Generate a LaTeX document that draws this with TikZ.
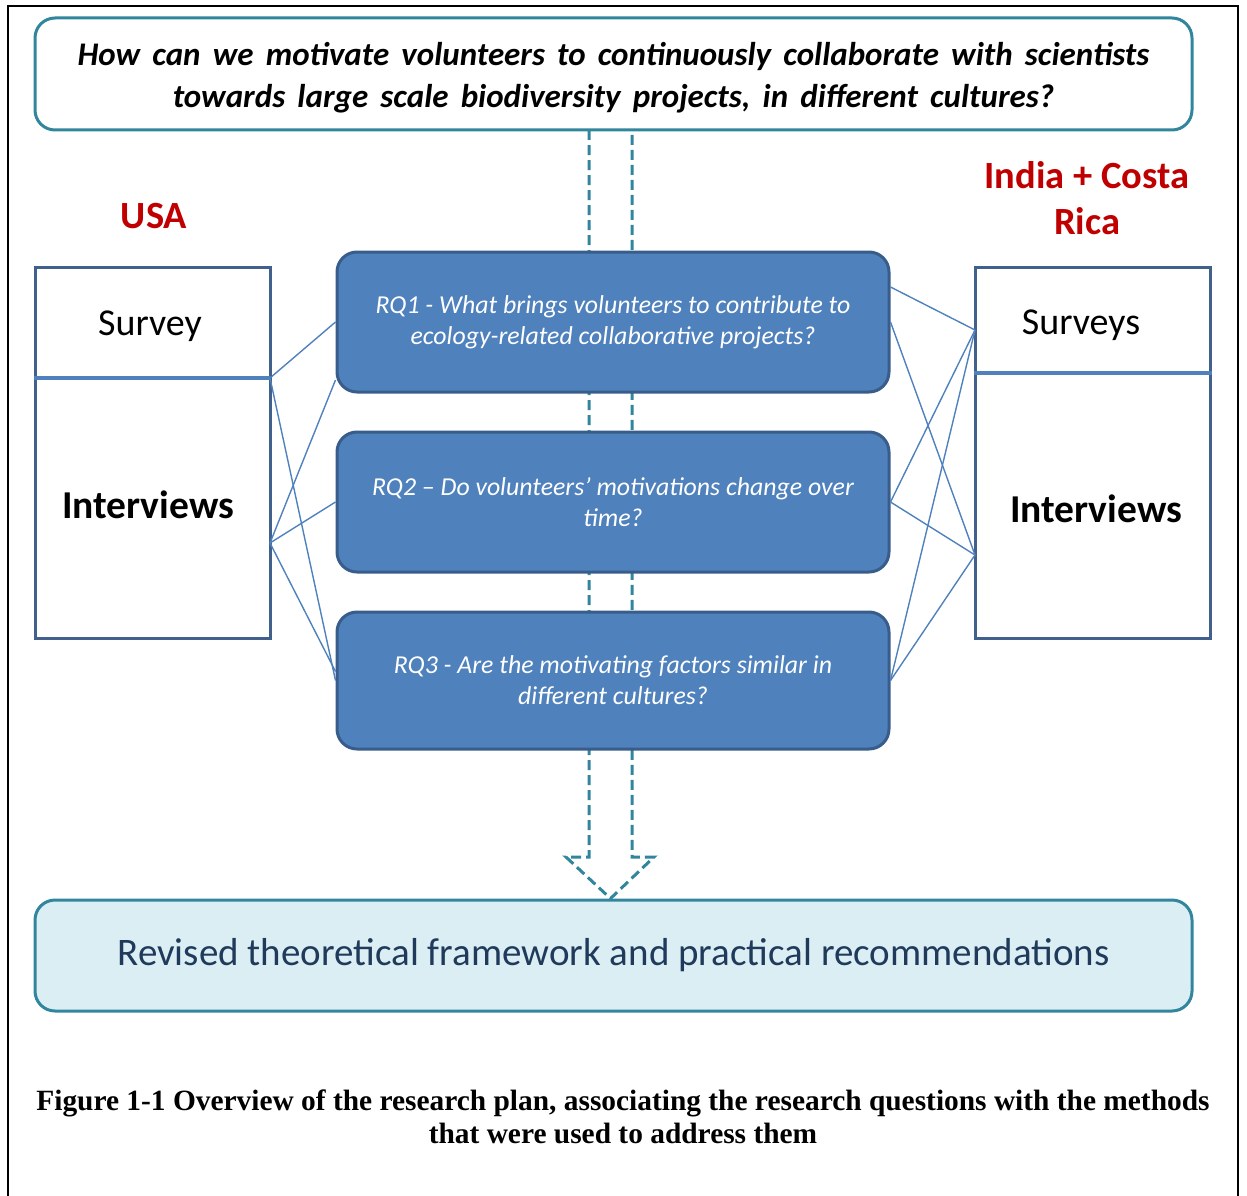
\documentclass[tikz,border=0pt]{standalone}
\usepackage{fontspec}
\setmainfont{Carlito}
\newfontfamily\capfont{Liberation Serif}
\usetikzlibrary{positioning,calc,backgrounds}
\definecolor{qteal}{HTML}{31859C}
\definecolor{rqblue}{HTML}{4F81BD}
\definecolor{rqedge}{HTML}{385D8A}
\definecolor{boxedge}{HTML}{41618C}
\definecolor{pale}{HTML}{DBEEF4}
\definecolor{navytext}{HTML}{1F3A5A}
\definecolor{cred}{HTML}{C00000}
\newcommand{\widespaces}{\spaceskip=0.37em\relax}

\begin{document}
\begin{tikzpicture}[x=1pt, y=-1pt,
    every node/.style={align=center, inner sep=0pt},
    qbox/.style={draw=qteal, line width=3pt, rounded corners=20pt, minimum width=1157pt},
    rqbox/.style={draw=rqedge, line width=3pt, fill=rqblue, rounded corners=20pt,
                  minimum width=552pt, minimum height=140pt, text=white,
                  font=\fontsize{25.8}{31}\selectfont\itshape},
    mbox/.style={draw=boxedge, line width=3pt, minimum width=235pt, minimum height=371pt},
    divider/.style={draw=rqblue, line width=3.5pt},
    link/.style={draw=rqblue, line width=1.4pt},
    country/.style={text=cred, font=\fontsize{38.5}{46}\selectfont\bfseries},
    mlab/.style={font=\fontsize{38}{44}\selectfont},
    mlabb/.style={font=\fontsize{39.5}{46}\selectfont\bfseries},
    hollow/.style={draw=qteal, line width=3pt, dash pattern=on 10pt off 5pt}]
  \useasboundingbox (0,0) rectangle (1247,1196);
  \draw[line width=2pt] (8,1196) -- (8,6) -- (1238,6) -- (1238,1196);

  % overall question and outcome
  \node[qbox, minimum height=112pt] (quest) at (613.5,74) {};
  \node[font=\fontsize{33}{42}\selectfont\bfseries\itshape\widespaces] (questTxt) at ([yshift=-4pt]quest.center)
    {How can we motivate volunteers to continuously collaborate with scientists\\
     towards large scale biodiversity projects, in different cultures?};
  \node[qbox, fill=pale, minimum height=111pt, text=navytext, font=\fontsize{39}{44}\selectfont] (result) at (613.5,955.5)
    {Revised theoretical framework and practical recommendations};

  % research questions
  \node[rqbox] (rq1) at (613,322) {RQ1 - What brings volunteers to contribute to\\ecology-related collaborative projects?};
  \node[rqbox, below=37pt of rq1] (rq2) {RQ2 – Do volunteers’ motivations change over\\time?};
  \node[rqbox, minimum height=137pt, below=37pt of rq2] (rq3) {RQ3 - Are the motivating factors similar in\\different cultures?};

  % the big dashed arrow behind the questions
  \begin{scope}[on background layer]
    \coordinate (tip) at ([xshift=-3pt]result.north);
    \draw[hollow] (589,130) -- (589,857) -- (566,857) -- (tip) -- (654,857) -- (632,857) -- (632,130);
  \end{scope}

  % methods, USA
  \node[country] (usaLab) at (154,216) {USA};
  \node[mbox] (usa) at (152.5,452.5) {};
  \coordinate (usaS) at (270,378);
  \coordinate (usaI) at (270,543);
  \draw[divider] (usa.west |- usaS) -- (usaS);
  \node[mlab] (usaSurv) at (150,326) {Survey};
  \node[mlabb] (usaInt) at (148,505) {Interviews};

  % methods, India + Costa Rica
  \node[country] (othLab) at (1087,198) {India + Costa\\Rica};
  \node[mbox] (oth) at (1092.5,452.5) {};
  \coordinate (othS) at (975,330);
  \coordinate (othI) at (975,555);
  \draw[divider] (oth.west |- 0,373) -- (oth.east |- 0,373);
  \node[mlab] (othSurv) at (1081,325) {Surveys};
  \node[mlabb] (othInt) at (1096,509) {Interviews};

  % which method serves which question
  \draw[link] (usaS) -- (rq1.west);
  \draw[link] (usaS) -- (rq3.west);
  \draw[link] (usaI) -- ([yshift=-58pt]rq1.west);
  \draw[link] (usaI) -- (rq2.west);
  \draw[link] (usaI) -- ([yshift=9pt]rq3.west);
  \draw[link] ([yshift=35pt]rq1.east) -- (othS);
  \draw[link] (rq1.east) -- (othI);
  \draw[link] (rq2.east) -- (othS);
  \draw[link] (rq2.east) -- (othI);
  \draw[link] (rq3.east) -- (othS);
  \draw[link] (rq3.east) -- (othI);

  \node[font=\capfont\bfseries\fontsize{29.4}{33}\selectfont] (caption) at (623,1117)
    {Figure 1-1 Overview of the research plan, associating the research questions with the methods\\
     that were used to address them};
\end{tikzpicture}
\end{document}
